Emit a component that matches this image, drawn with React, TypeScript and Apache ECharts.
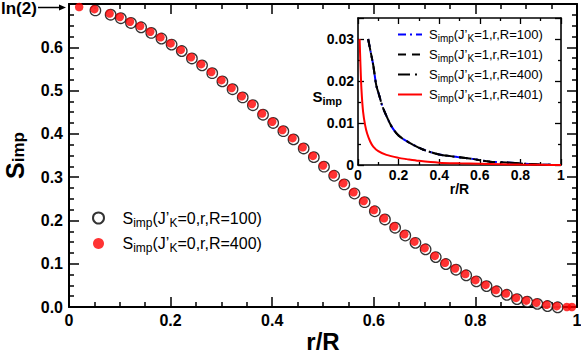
import React, { useEffect, useRef } from 'react';
import * as echarts from 'echarts';

// ---- main panel data (r/R and S_imp) ----
const rR100 = [0.05, 0.08, 0.10, 0.12, 0.14, 0.16, 0.18, 0.20, 0.22, 0.24, 0.26, 0.28, 0.30, 0.32, 0.34, 0.36, 0.38, 0.40, 0.42, 0.44, 0.46, 0.48, 0.50, 0.52, 0.54, 0.56, 0.58, 0.60, 0.62, 0.64, 0.66, 0.68, 0.70, 0.72, 0.74, 0.76, 0.78, 0.80, 0.82, 0.84, 0.86, 0.88, 0.90, 0.92, 0.94, 0.96];
const sR100 = [0.688, 0.678, 0.670, 0.659, 0.649, 0.636, 0.623, 0.609, 0.594, 0.577, 0.561, 0.543, 0.524, 0.506, 0.487, 0.469, 0.447, 0.428, 0.409, 0.390, 0.369, 0.349, 0.327, 0.306, 0.286, 0.265, 0.245, 0.224, 0.205, 0.186, 0.168, 0.151, 0.136, 0.118, 0.102, 0.089, 0.076, 0.062, 0.051, 0.039, 0.031, 0.021, 0.015, 0.010, 0.005, 0.002];
const rR400 = [0.02, 0.05, 0.08, 0.10, 0.12, 0.14, 0.16, 0.18, 0.20, 0.22, 0.24, 0.26, 0.28, 0.30, 0.32, 0.34, 0.36, 0.38, 0.40, 0.42, 0.44, 0.46, 0.48, 0.50, 0.52, 0.54, 0.56, 0.58, 0.60, 0.62, 0.64, 0.66, 0.68, 0.70, 0.72, 0.74, 0.76, 0.78, 0.80, 0.82, 0.84, 0.86, 0.88, 0.90, 0.92, 0.94, 0.96, 0.98, 0.99];
const sR400 = [0.693, 0.688, 0.678, 0.670, 0.659, 0.649, 0.636, 0.623, 0.609, 0.594, 0.577, 0.561, 0.543, 0.524, 0.506, 0.487, 0.469, 0.447, 0.428, 0.409, 0.390, 0.369, 0.349, 0.327, 0.306, 0.286, 0.265, 0.245, 0.224, 0.205, 0.186, 0.168, 0.151, 0.136, 0.118, 0.102, 0.089, 0.076, 0.062, 0.051, 0.039, 0.031, 0.021, 0.015, 0.010, 0.005, 0.002, 0.000, 0.000];

// ---- inset data ----
const rInsetSlow = [0.05, 0.06, 0.075, 0.09, 0.105, 0.12, 0.14, 0.165, 0.20, 0.25, 0.32, 0.40, 0.49, 0.57, 0.65, 0.73, 0.82, 0.90, 1.0];
const sInsetSlow = [0.030, 0.0275, 0.0238, 0.019, 0.0165, 0.014, 0.0117, 0.0092, 0.0070, 0.0054, 0.0037, 0.0025, 0.0019, 0.0014, 0.0008, 0.0006, 0.0003, 0.0001, 0.0];
const rInsetFast = [0.008, 0.012, 0.017, 0.025, 0.035, 0.045, 0.06, 0.075, 0.10, 0.14, 0.20, 0.24, 0.30, 0.40, 0.50, 0.60, 0.70, 0.80, 0.90, 1.0];
const sInsetFast = [0.030, 0.024, 0.018, 0.0127, 0.0095, 0.0075, 0.0056, 0.0044, 0.0033, 0.0024, 0.0017, 0.0014, 0.0010, 0.00055, 0.0004, 0.0003, 0.0002, 0.0001, 0.00005, 0.0];

const mainXTicks = ['0', '0.2', '0.4', '0.6', '0.8', '1'];

const FONT = '"Liberation Sans", Arial, Helvetica, sans-serif';

const zip = (xs: number[], ys: number[]) => xs.map((x, i) => [x, ys[i]]);

const nameMain100 = 'Simp(J’K=0,r,R=100)';
const nameMain400 = 'Simp(J’K=0,r,R=400)';
const nameIn100 = 'Simp(J’K=1,r,R=100)';
const nameIn101 = 'Simp(J’K=1,r,R=101)';
const nameIn400 = 'Simp(J’K=1,r,R=400)';
const nameIn401 = 'Simp(J’K=1,r,R=401)';

const richName = (name: string) => {
  const m = name.match(/K=(\d),r,R=(\d+)/);
  const k = m ? m[1] : '0';
  const R = m ? m[2] : '';
  return `{a|S}{s|imp}{a|(J’}{s|K}{a|=${k},r,R=${R})}`;
};

const xLabel = (v: number) => {
  const i = Math.round(v / 0.2);
  if (Math.abs(v - i * 0.2) > 1e-6) return '';
  return mainXTicks[i] ?? '';
};

export default function App() {
  const ref = useRef<HTMLDivElement>(null);
  useEffect(() => {
    if (!ref.current) return;
    const chart = echarts.init(ref.current, undefined, { renderer: 'svg' });
    const axisLine = { show: true, onZero: false, lineStyle: { color: '#000', width: 2 } };
    const insetAxisLine = { show: true, onZero: false, lineStyle: { color: '#000', width: 1.6 } };
    const mainTick = { show: true, inside: true, length: 10, lineStyle: { color: '#000', width: 1.5 } };
    const insetTick = { show: true, inside: true, length: 6, lineStyle: { color: '#000', width: 1.3 } };
    const mainLabel = { fontFamily: FONT, fontSize: 16, fontWeight: 'bold', color: '#000' };
    const insetLabel = { fontFamily: FONT, fontSize: 14, fontWeight: 'bold', color: '#000' };

    const option: any = {
      animation: false,
      backgroundColor: '#fff',
      grid: [
        { left: 69, top: 4, width: 508, height: 303, containLabel: false, outerBoundsMode: 'none' },
        { left: 358, top: 18, width: 203, height: 147, containLabel: false, outerBoundsMode: 'none', show: true, backgroundColor: '#fff', borderWidth: 0 },
      ],
      xAxis: [
        {
          gridIndex: 0, type: 'value', min: 0, max: 1, interval: 0.2, position: 'bottom',
          axisLine, axisTick: mainTick,
          minorTick: { show: true, splitNumber: 4, length: 5, lineStyle: { color: '#000', width: 1.5 } },
          splitLine: { show: false },
          axisLabel: { ...mainLabel, margin: 5, formatter: xLabel },
          name: 'r/R', nameLocation: 'middle', nameGap: 22, nameMoveOverlap: false,
          nameTextStyle: { fontFamily: FONT, fontSize: 24, fontWeight: 'bold', color: '#000' },
        },
        {
          gridIndex: 0, type: 'value', min: 0, max: 1, interval: 0.2, position: 'top',
          axisLine, axisTick: mainTick,
          minorTick: { show: true, splitNumber: 4, length: 5, lineStyle: { color: '#000', width: 1.5 } },
          splitLine: { show: false }, axisLabel: { show: false },
        },
        {
          gridIndex: 1, type: 'value', min: 0, max: 1, interval: 0.2, position: 'bottom',
          axisLine: insetAxisLine, axisTick: insetTick,
          minorTick: { show: true, splitNumber: 2, length: 3, lineStyle: { color: '#000', width: 1.3 } },
          splitLine: { show: false },
          axisLabel: { ...insetLabel, margin: 3, formatter: xLabel },
          name: 'r/R', nameLocation: 'middle', nameGap: 17, nameMoveOverlap: false,
          nameTextStyle: { fontFamily: FONT, fontSize: 14, fontWeight: 'bold', color: '#000' },
        },
        {
          gridIndex: 1, type: 'value', min: 0, max: 1, interval: 0.2, position: 'top',
          axisLine: insetAxisLine, axisTick: insetTick,
          minorTick: { show: true, splitNumber: 2, length: 3, lineStyle: { color: '#000', width: 1.3 } },
          splitLine: { show: false }, axisLabel: { show: false },
        },
      ],
      yAxis: [
        {
          gridIndex: 0, type: 'value', min: 0, max: 0.7, interval: 0.1, position: 'left',
          axisLine, axisTick: mainTick,
          minorTick: { show: true, splitNumber: 4, length: 5, lineStyle: { color: '#000', width: 1.5 } },
          splitLine: { show: false },
          axisLabel: { ...mainLabel, margin: 6, formatter: (v: number) => (v > 0.65 ? '' : v.toFixed(1)) },
          name: '{a|S}{s|imp}', nameLocation: 'middle', nameGap: 42, nameRotate: 90, nameMoveOverlap: false,
          nameTextStyle: {
            color: '#000',
            rich: {
              a: { fontFamily: FONT, fontSize: 25, fontWeight: 'bold', color: '#000' },
              s: { fontFamily: FONT, fontSize: 17, fontWeight: 'bold', color: '#000', padding: [8, 0, 0, 0] },
            },
          },
        },
        {
          gridIndex: 0, type: 'value', min: 0, max: 0.7, interval: 0.1, position: 'right',
          axisLine, axisTick: mainTick,
          minorTick: { show: true, splitNumber: 4, length: 5, lineStyle: { color: '#000', width: 1.5 } },
          splitLine: { show: false }, axisLabel: { show: false },
        },
        {
          gridIndex: 1, type: 'value', min: 0, max: 0.035, interval: 0.01, position: 'left',
          axisLine: insetAxisLine, axisTick: insetTick,
          minorTick: { show: true, splitNumber: 2, length: 3, lineStyle: { color: '#000', width: 1.3 } },
          splitLine: { show: false },
          axisLabel: { ...insetLabel, margin: 4, formatter: (v: number) => (v === 0 ? '0' : v > 0.032 ? '' : v.toFixed(2)) },
          name: '{a|S}{s|imp}', nameLocation: 'middle', nameGap: 16, nameRotate: 0, nameMoveOverlap: false,
          nameTextStyle: {
            color: '#000',
            padding: [10, 0, 0, 0],
            rich: {
              a: { fontFamily: FONT, fontSize: 15, fontWeight: 'bold', color: '#000' },
              s: { fontFamily: FONT, fontSize: 11, fontWeight: 'bold', color: '#000', padding: [8, 0, 0, 0] },
            },
          },
        },
        {
          gridIndex: 1, type: 'value', min: 0, max: 0.035, interval: 0.01, position: 'right',
          axisLine: insetAxisLine, axisTick: insetTick,
          minorTick: { show: true, splitNumber: 2, length: 3, lineStyle: { color: '#000', width: 1.3 } },
          splitLine: { show: false }, axisLabel: { show: false },
        },
      ],
      legend: [
        {
          data: [nameMain100, nameMain400],
          orient: 'vertical', left: 87, top: 205,
          itemWidth: 38, itemHeight: 11, itemGap: 7,
          formatter: richName,
          textStyle: {
            color: '#000',
            rich: {
              a: { fontFamily: FONT, fontSize: 16, color: '#000' },
              s: { fontFamily: FONT, fontSize: 12, color: '#000', padding: [9, 0, 0, 0] },
            },
          },
        },
        {
          data: [nameIn100, nameIn101, nameIn400, nameIn401],
          orient: 'vertical', left: 392, top: 23,
          itemWidth: 24, itemHeight: 10, itemGap: 5,
          itemStyle: { opacity: 0 },
          formatter: richName,
          textStyle: {
            color: '#000',
            padding: [0, 0, 0, 2],
            rich: {
              a: { fontFamily: FONT, fontSize: 13, color: '#000' },
              s: { fontFamily: FONT, fontSize: 10, color: '#000', padding: [7, 0, 0, 0] },
            },
          },
        },
      ],
      series: [
        {
          name: nameMain100, type: 'scatter', xAxisIndex: 0, yAxisIndex: 0,
          data: zip(rR100, sR100), symbol: 'circle', symbolSize: 10.5, symbolOffset: [1, 1.2],
          itemStyle: { color: '#fff', borderColor: '#000', borderWidth: 1.3 }, z: 3,
        },
        {
          name: nameMain400, type: 'scatter', xAxisIndex: 0, yAxisIndex: 0,
          data: zip(rR400, sR400), symbol: 'circle', symbolSize: 8.5,
          itemStyle: { color: '#ff0000' }, z: 4,
        },
        {
          name: nameIn100, type: 'line', xAxisIndex: 2, yAxisIndex: 2, data: zip(rInsetSlow, sInsetSlow),
          symbol: 'none', smooth: 0.3, itemStyle: { color: '#0000ff' },
          lineStyle: { color: '#0000ff', width: 2, type: [8, 4, 2, 4] }, z: 5,
        },
        {
          name: nameIn101, type: 'line', xAxisIndex: 2, yAxisIndex: 2, data: zip(rInsetSlow, sInsetSlow),
          symbol: 'none', smooth: 0.3, itemStyle: { color: '#000' },
          lineStyle: { color: '#000', width: 2, type: [8, 6] }, z: 6,
        },
        {
          name: nameIn400, type: 'line', xAxisIndex: 2, yAxisIndex: 2, data: zip(rInsetSlow, sInsetSlow),
          symbol: 'none', smooth: 0.3, itemStyle: { color: '#000' },
          lineStyle: { color: '#000', width: 2, type: [12, 5, 2, 5] }, z: 5,
        },
        {
          name: nameIn401, type: 'line', xAxisIndex: 2, yAxisIndex: 2, data: zip(rInsetFast, sInsetFast),
          symbol: 'none', smooth: 0.3, itemStyle: { color: '#ff0000' },
          lineStyle: { color: '#ff0000', width: 2 }, z: 7,
        },
      ],
      graphic: [
        {
          type: 'text', left: 1, top: 0,
          style: { text: 'ln(2)', font: `bold 17px ${FONT}`, fill: '#000' },
        },
        {
          type: 'line', shape: { x1: 38, y1: 7.5, x2: 61, y2: 7.5 },
          style: { stroke: '#000', lineWidth: 1.5 },
        },
        {
          type: 'polygon', shape: { points: [[59, 4.5], [66, 7.5], [59, 10.5]] },
          style: { fill: '#000' },
        },
      ],
    };
    chart.setOption(option);
    return () => chart.dispose();
  }, []);
  return <div ref={ref} style={{ position: 'absolute', left: 0, top: 0, width: 581, height: 354 }} />;
}
